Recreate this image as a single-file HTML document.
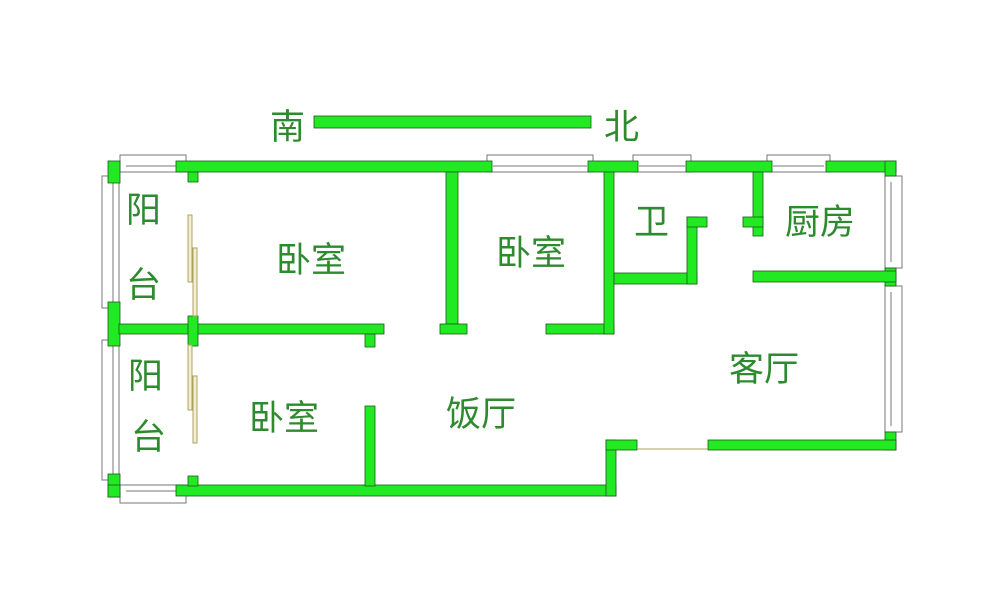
<!DOCTYPE html>
<html><head><meta charset="utf-8"><style>
body{margin:0;background:#fff;}
svg{display:block}
text{font-family:"Liberation Sans","Noto Sans CJK SC",sans-serif;fill:#2e8a2e;font-size:35px}
</style></head><body>
<svg width="1000" height="594" viewBox="0 0 1000 594" xmlns="http://www.w3.org/2000/svg">
<g fill="#fff" stroke="#777" stroke-width="1">
<rect x="120" y="155" width="66" height="17"/><rect x="487" y="155" width="106" height="17"/>
<rect x="633" y="155" width="58" height="17"/><rect x="767" y="155" width="63" height="17"/>
<rect x="120" y="485" width="66" height="18"/>
<rect x="102" y="176" width="17" height="132"/><rect x="102" y="340" width="17" height="140"/>
<rect x="885" y="176" width="17" height="92"/><rect x="885" y="286" width="17" height="146"/>
</g>
<g stroke="#777" stroke-width="1">
<line x1="126" y1="166" x2="180" y2="166"/><line x1="493" y1="166" x2="587" y2="166"/>
<line x1="639" y1="166" x2="685" y2="166"/><line x1="773" y1="166" x2="824" y2="166"/>
<line x1="126" y1="491" x2="180" y2="491"/>
<line x1="113" y1="182" x2="113" y2="302"/><line x1="113" y1="346" x2="113" y2="474"/>
<line x1="891" y1="182" x2="891" y2="262"/><line x1="891" y1="292" x2="891" y2="426"/>
</g>
<g fill="#22ea22" stroke="#1a5a1a" stroke-width="0.8">
<rect x="314" y="116" width="277" height="12"/>
<rect x="108" y="161" width="12" height="22"/>
<rect x="176" y="161" width="316" height="11"/>
<rect x="588" y="161" width="50" height="11"/>
<rect x="686" y="161" width="86" height="11"/>
<rect x="826" y="161" width="70" height="11"/>
<rect x="885" y="161" width="11" height="15"/>
<rect x="885" y="268" width="11" height="18"/>
<rect x="885" y="432" width="11" height="18"/>
<rect x="108" y="302" width="12" height="44"/>
<rect x="108" y="474" width="12" height="23"/>
<rect x="108" y="485" width="12" height="12"/>
<rect x="176" y="485" width="440" height="11"/>
<rect x="606" y="440" width="10" height="56"/>
<rect x="606" y="440" width="31" height="10"/>
<rect x="708" y="440" width="188" height="10"/>
<rect x="119" y="324" width="265" height="10"/>
<rect x="365" y="334" width="10" height="13"/>
<rect x="188" y="172" width="10" height="10"/>
<rect x="188" y="316" width="10" height="30"/>
<rect x="188" y="476" width="10" height="10"/>
<rect x="446" y="172" width="12" height="152"/>
<rect x="440" y="324" width="27" height="10"/>
<rect x="546" y="324" width="68" height="10"/>
<rect x="604" y="172" width="10" height="162"/>
<rect x="614" y="273" width="83" height="11"/>
<rect x="687" y="217" width="10" height="67"/>
<rect x="687" y="217" width="20" height="10"/>
<rect x="753" y="172" width="10" height="64"/>
<rect x="743" y="217" width="20" height="10"/>
<rect x="753" y="271" width="143" height="11"/>
<rect x="365" y="406" width="10" height="80"/>
</g>
<line x1="637" y1="449" x2="708" y2="449" stroke="#b0a060" stroke-width="1"/>
<g fill="#f0f0d0" stroke="#b0a060" stroke-width="1">
<rect x="188" y="215" width="4" height="67"/><rect x="193" y="248" width="4" height="68"/>
<rect x="188" y="345" width="4" height="65"/><rect x="193" y="376" width="4" height="67"/>
</g>
<text x="270" y="139">南</text><text x="604" y="139">北</text>
<text x="126" y="222">阳</text><text x="126" y="297">台</text>
<text x="128" y="388">阳</text><text x="131" y="449">台</text>
<text x="276" y="272">卧室</text><text x="496" y="265">卧室</text>
<text x="249" y="430">卧室</text><text x="446" y="426">饭厅</text>
<text x="634" y="234">卫</text><text x="785" y="234">厨房</text>
<text x="729" y="381">客厅</text>
</svg>
</body></html>
